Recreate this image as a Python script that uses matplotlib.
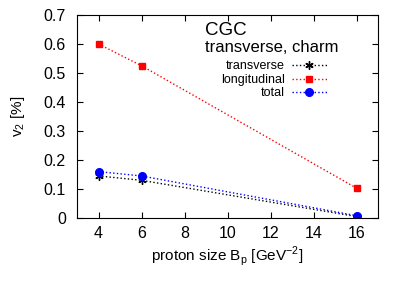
import matplotlib
matplotlib.use("Agg")
import matplotlib.pyplot as plt
from matplotlib.ticker import FuncFormatter

plt.rcParams['font.family'] = ['Liberation Sans', 'DejaVu Sans']
plt.rcParams['mathtext.fontset'] = 'custom'
plt.rcParams['mathtext.rm'] = 'Liberation Sans'

bp = [4, 6, 16]
v2_transverse = [0.145, 0.130, 0.005]
v2_longitudinal = [0.600, 0.525, 0.103]
v2_total = [0.160, 0.145, 0.008]

fig = plt.figure(figsize=(4.07, 2.84), dpi=100)
ax = fig.add_axes([77 / 407, 1 - 218 / 284, 301 / 407, 203 / 284])

ax.plot(bp, v2_transverse, ':', color='black', marker=(6, 2, 0), markersize=6,
        markeredgewidth=1, lw=1, label='transverse')
ax.plot(bp, v2_longitudinal, ':', color='red', marker='s', markersize=5,
        lw=1, label='longitudinal')
ax.plot(bp, v2_total, ':', color='blue', marker='o', markersize=5.5,
        lw=1, label='total')

ax.set_xlim(3, 17)
ax.set_ylim(0, 0.7)
ax.set_xticks([4, 6, 8, 10, 12, 14, 16])
ax.set_yticks([0, 0.1, 0.2, 0.3, 0.4, 0.5, 0.6, 0.7])
ax.yaxis.set_major_formatter(FuncFormatter(lambda v, p: '0' if v == 0 else f'{v:.1f}'))
ax.tick_params(direction='in', top=True, right=True, labelsize=11.5, length=4)
ax.tick_params(axis='y', pad=8)
ax.tick_params(axis='x', pad=6)
for s in ax.spines.values():
    s.set_linewidth(0.8)

ax.set_xlabel(r'proton size B$_\mathrm{p}$ [GeV$^{-2}$]', fontsize=11, labelpad=2)
ax.set_ylabel(r'v$_2$ [%]', fontsize=11, labelpad=12)

ax.text(0.424, 0.903, 'CGC', transform=ax.transAxes, fontsize=13.5, va='baseline')
ax.text(0.424, 0.817, 'transverse, charm', transform=ax.transAxes, fontsize=12, va='baseline')

ax.legend(loc='upper right', bbox_to_anchor=(0.83, 0.776), markerfirst=False,
          frameon=False, fontsize=9, handlelength=2.8, handletextpad=0.55,
          labelspacing=0.12, borderpad=0, borderaxespad=0)

fig.savefig('out.png', dpi=100)
